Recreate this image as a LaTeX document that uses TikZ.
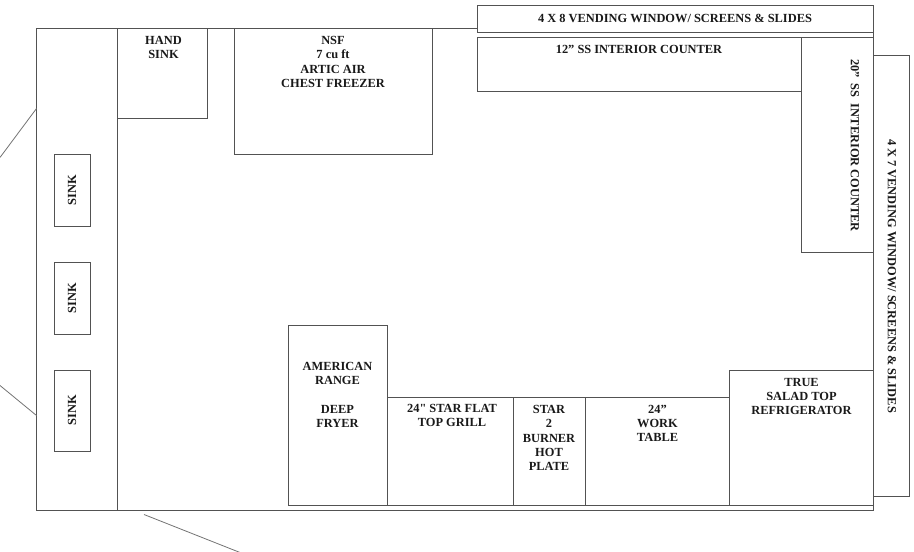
\documentclass[tikz,border=0pt]{standalone}
\usepackage{fontspec}
\setmainfont{Liberation Serif}
\newfontfamily\plainquote{Liberation Serif}
\definecolor{d00}{rgb}{0.32, 0.32, 0.32}
\definecolor{d01}{rgb}{0.45, 0.45, 0.45}
\definecolor{d02}{rgb}{0.10, 0.10, 0.10}
\tikzstyle{wall} = [draw=d00, line width=.7pt]
\tikzstyle{unit} = [draw=d00, line width=.75pt]
\tikzstyle{door} = [draw=d01, line width=.6pt]
\tikzstyle{lbl} = [inner sep=0pt, align=center, text=d02,
    font=\fontsize{9.3}{10.75}\selectfont\bfseries]

\begin{document}
\begin{tikzpicture}[x=.75pt, y=-.75pt]
     \useasboundingbox (0,-.5) rectangle (914,551.5);
     % ><>< =================== ><>< %
     % ><><      Floor plan     ><>< %
     % ><>< =================== ><>< %
     \draw [wall] (477,28) -- (36.5,28) -- (36.5,509.5) -- (873.5,509.5) -- (873.5,496);
     \draw [wall] (117.5,28) -- (117.5,509.5);
     \draw [unit] (117.5,118) -- (207.5,118) -- (207.5,28);
     \draw [unit] (234.5,28) -- (234.5,154) -- (432.5,154) -- (432.5,28);
     \draw [unit] (477,5.5) rectangle (873,32.5);
     \draw [unit] (873,32.5) -- (873,37);
     \draw [unit] (801.5,91) -- (477,91) -- (477,37) -- (873,37);
     \draw [unit] (801.5,37) -- (801.5,252.5) -- (873,252.5);
     \draw [unit] (873,55) rectangle (909,496);
     \draw [unit] (873,37) -- (873,55);
     \draw [unit] (54.5,154) rectangle (90.5,226);
     \draw [unit] (54.5,262) rectangle (90.5,334);
     \draw [unit] (54.5,370) rectangle (90.5,451);
     \draw [unit] (288.5,325) rectangle (387.5,505);
     \draw [unit] (387.5,397) rectangle (513.5,505);
     \draw [unit] (513.5,397) rectangle (585.5,505);
     \draw [unit] (585.5,397) rectangle (729.5,505);
     \draw [unit] (729.5,370) rectangle (873,505);
     % ><>< =================== ><>< %
     % ><><     Door swings     ><>< %
     % ><>< =================== ><>< %
     \draw [door] (36.5,108) -- (0,157);
     \draw [door] (36.5,415) -- (0,385);
     \draw [door] (144,514) -- (240,552);
     % ><>< =================== ><>< %
     % ><><       Labels        ><>< %
     % ><>< =================== ><>< %
     \node [lbl] (handsink) at (163.5,47) {HAND\\SINK};
     \node [lbl] (freezer) at (333,61.5) {NSF\\7 cu ft\\ARTIC AIR\\CHEST FREEZER};
     \node [lbl] (window8) at (675,18) {4 X 8 VENDING WINDOW/ SCREENS \& SLIDES};
     \node [lbl] (counter12) at (639,49) {12” SS INTERIOR COUNTER};
     \node [lbl, rotate=-90] (counter20) at (855,145) {20”\ \ SS\ \ INTERIOR COUNTER};
     \node [lbl, rotate=-90] (window7) at (892,275.5) {4 X 7 VENDING WINDOW/ SCREENS \& SLIDES};
     \node [lbl, rotate=90] (sink1) at (72,189.5) {SINK};
     \node [lbl, rotate=90] (sink2) at (72,297.5) {SINK};
     \node [lbl, rotate=90] (sink3) at (72,409.5) {SINK};
     \node [lbl] (range) at (337.5,394.5) {AMERICAN\\RANGE\\ \\DEEP\\FRYER};
     \node [lbl] (grill) at (452,415) {24{\plainquote\bfseries"} STAR FLAT\\TOP GRILL};
     \node [lbl] (hotplate) at (549,437.5) {STAR\\2\\BURNER\\HOT\\PLATE};
     \node [lbl] (worktable) at (657.5,423) {24”\\WORK\\TABLE};
     \node [lbl] (fridge) at (801.5,396) {TRUE\\SALAD TOP\\REFRIGERATOR};
\end{tikzpicture}
\end{document}
